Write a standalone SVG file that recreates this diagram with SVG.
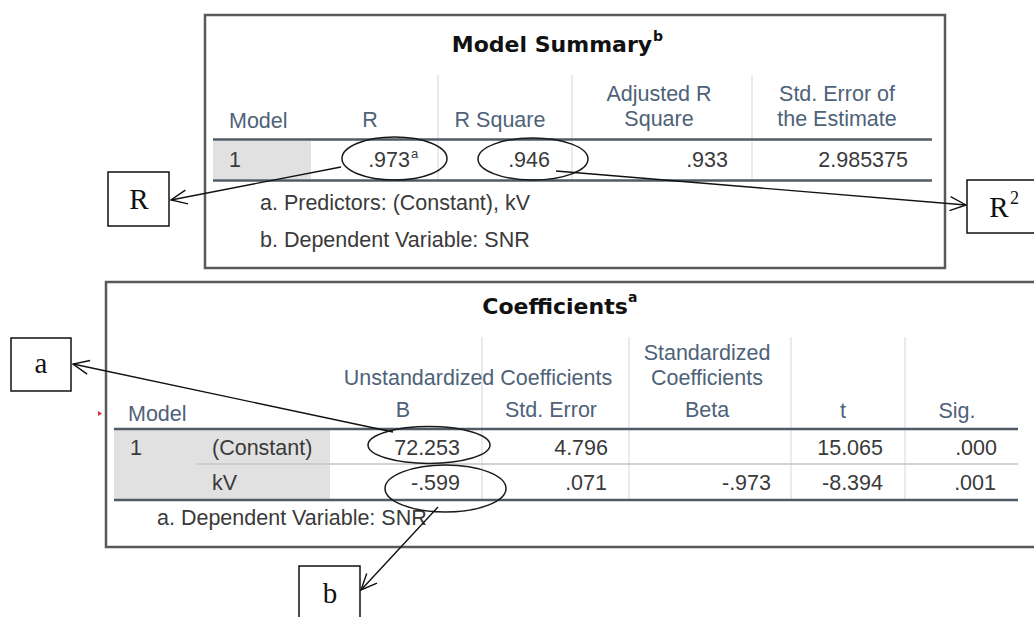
<svg xmlns="http://www.w3.org/2000/svg" width="1034" height="617" viewBox="0 0 1034 617">
<defs>
<marker id="arr" viewBox="0 0 18 16" refX="17" refY="8" markerWidth="18" markerHeight="16" markerUnits="userSpaceOnUse" orient="auto">
<path d="M1,1 L17,8 L1,15" fill="none" stroke="#111" stroke-width="1.4"/>
</marker>
<style>
.frame{fill:#fff;stroke:#5a5a5a;stroke-width:2.5}
.title{font-family:"DejaVu Sans",sans-serif;font-weight:bold;font-size:22px;fill:#111;text-anchor:middle}
.sup{font-family:"DejaVu Sans",sans-serif;font-weight:bold;font-size:14px;fill:#111}
.hd{font-family:"Liberation Sans",Arial,sans-serif;font-size:21.5px;fill:#4e6278}
.hc{text-anchor:middle}
.td{font-family:"Liberation Sans",Arial,sans-serif;font-size:21.5px;fill:#3a3a3a}
.num{text-anchor:end}
.tsup{font-family:"Liberation Sans",Arial,sans-serif;font-size:13px;fill:#3a3a3a}
.thick{stroke:#4f5a66;stroke-width:2.5}
.thin{stroke:#c4c4c4;stroke-width:1.5}
.vsep{stroke:#dfe4e9;stroke-width:1.5}
.gray{fill:#e1e1e1}
.oval{fill:none;stroke:#1a1a1a;stroke-width:1.5}
.box{fill:#fff;stroke:#111;stroke-width:1.5}
.lbl{font-family:"Liberation Serif","Times New Roman",serif;font-size:29px;fill:#111;text-anchor:middle}
.lsup{font-family:"Liberation Serif","Times New Roman",serif;font-size:18px;fill:#111}
.conn{fill:none;stroke:#111;stroke-width:1.4;marker-end:url(#arr)}
</style>
</defs>
<rect width="1034" height="617" fill="#fff"/>

<g id="model-summary">
<rect class="frame" x="205" y="15" width="740" height="253"/>
<text class="title" x="552" y="52">Model Summary</text>
<text class="sup" x="653" y="41">b</text>
<rect class="gray" x="213" y="141" width="98" height="38"/>
<line class="vsep" x1="438" y1="75" x2="438" y2="180"/>
<line class="vsep" x1="572" y1="75" x2="572" y2="180"/>
<line class="vsep" x1="752" y1="75" x2="752" y2="180"/>
<line class="thick" x1="213" y1="139.5" x2="932" y2="139.5"/>
<line class="thick" x1="213" y1="180.5" x2="932" y2="180.5"/>
<text class="hd" x="229" y="128">Model</text>
<text class="hd hc" x="370" y="127">R</text>
<text class="hd hc" x="500" y="127">R Square</text>
<text class="hd hc" x="659" y="101">Adjusted R</text>
<text class="hd hc" x="659" y="126">Square</text>
<text class="hd hc" x="837" y="101">Std. Error of</text>
<text class="hd hc" x="837" y="126">the Estimate</text>
<text class="td" x="229" y="167">1</text>
<text class="td num" x="410" y="167">.973</text>
<text class="tsup" x="411" y="158">a</text>
<text class="td num" x="550" y="167">.946</text>
<text class="td num" x="728" y="167">.933</text>
<text class="td num" x="908" y="167">2.985375</text>
<text class="td" x="260" y="210">a. Predictors: (Constant), kV</text>
<text class="td" x="260" y="247">b. Dependent Variable: SNR</text>
</g>

<g id="coefficients">
<rect class="frame" x="106" y="282" width="940" height="265"/>
<text class="title" x="555" y="314">Coefficients</text>
<text class="sup" x="628" y="302">a</text>
<rect class="gray" x="114" y="430" width="216" height="69"/>
<line class="vsep" x1="482" y1="337" x2="482" y2="500"/>
<line class="vsep" x1="629" y1="337" x2="629" y2="500"/>
<line class="vsep" x1="791" y1="337" x2="791" y2="500"/>
<line class="vsep" x1="905" y1="337" x2="905" y2="500"/>
<line class="thick" x1="114" y1="429" x2="1018" y2="429"/>
<line class="thin" x1="197" y1="464" x2="1018" y2="464"/>
<line class="thick" x1="114" y1="500" x2="1018" y2="500"/>
<text class="hd hc" x="478" y="385">Unstandardized Coefficients</text>
<text class="hd hc" x="707" y="360">Standardized</text>
<text class="hd hc" x="707" y="385">Coefficients</text>
<text class="hd" x="128" y="421">Model</text>
<text class="hd hc" x="403" y="417">B</text>
<text class="hd hc" x="551" y="417">Std. Error</text>
<text class="hd hc" x="707" y="417">Beta</text>
<text class="hd hc" x="843" y="418">t</text>
<text class="hd hc" x="957" y="418">Sig.</text>
<text class="td" x="130" y="455">1</text>
<text class="td" x="212" y="455">(Constant)</text>
<text class="td num" x="460" y="455">72.253</text>
<text class="td num" x="608" y="455">4.796</text>
<text class="td num" x="883" y="455">15.065</text>
<text class="td num" x="997" y="455">.000</text>
<text class="td" x="212" y="490">kV</text>
<text class="td num" x="460" y="490">-.599</text>
<text class="td num" x="607" y="490">.071</text>
<text class="td num" x="771" y="490">-.973</text>
<text class="td num" x="883" y="490">-8.394</text>
<text class="td num" x="996" y="490">.001</text>
<text class="td" x="157" y="525">a. Dependent Variable: SNR</text>
<polygon points="98,411 102,413.5 98,416" fill="#e03030"/>
</g>

<g id="highlights">
<ellipse class="oval" cx="394.5" cy="158.5" rx="52.5" ry="21.5"/>
<ellipse class="oval" cx="533" cy="159" rx="55" ry="21"/>
<ellipse class="oval" cx="429" cy="445" rx="61" ry="18.5"/>
<ellipse class="oval" cx="445.5" cy="488.5" rx="60.5" ry="23.5"/>
</g>

<g id="label-R">
<rect class="box" x="108" y="172" width="61" height="54"/>
<text class="lbl" x="139" y="209">R</text>
</g>
<g id="label-R2">
<rect class="box" x="967" y="180" width="80" height="53"/>
<text class="lbl" x="999" y="217">R</text>
<text class="lsup" x="1010" y="204">2</text>
</g>
<g id="label-a">
<rect class="box" x="11" y="338" width="60" height="53"/>
<text class="lbl" x="41" y="373">a</text>
</g>
<g id="label-b">
<rect class="box" x="299" y="566" width="61" height="70"/>
<text class="lbl" x="330" y="603">b</text>
</g>

<g id="connectors">
<path class="conn" d="M341,167 L171,200"/>
<path class="conn" d="M556,171 L966,205"/>
<path class="conn" d="M393,432 L73,364"/>
<path class="conn" d="M438,507 L361,590"/>
</g>
</svg>
